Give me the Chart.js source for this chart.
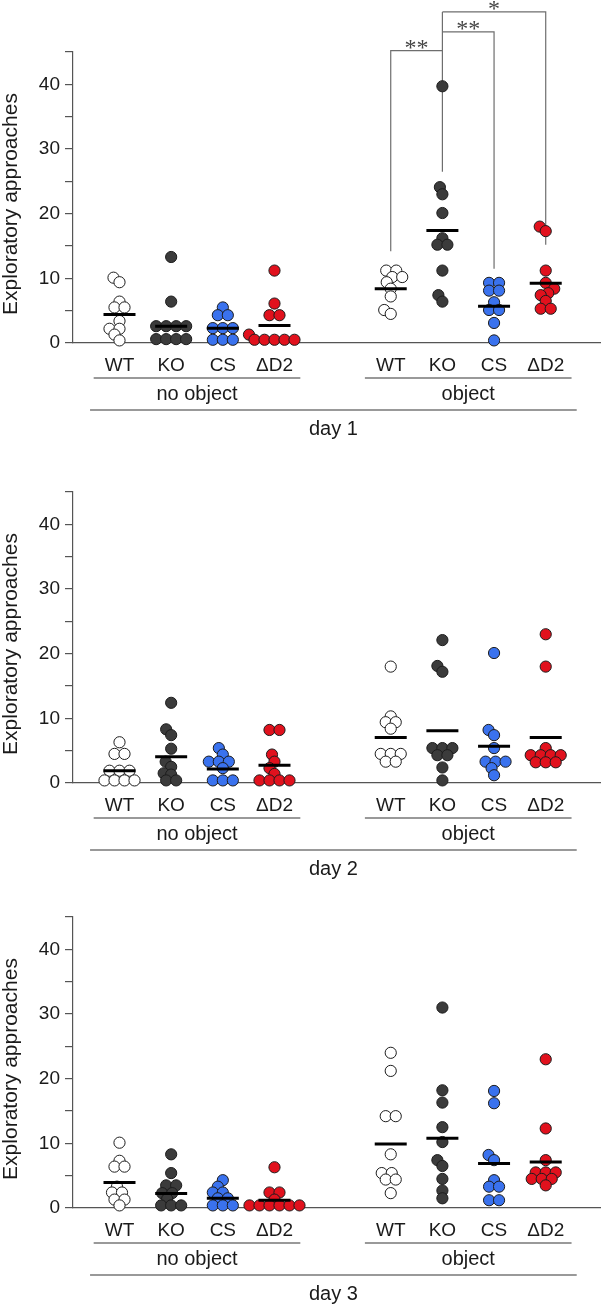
<!DOCTYPE html>
<html>
<head>
<meta charset="utf-8">
<script src="https://cdn.jsdelivr.net/npm/chart.js@4/dist/chart.umd.min.js"></script>
<style>
  html, body { margin: 0; padding: 0; background: #fff; overflow: hidden; }
  #wrap { position: relative; width: 601px; height: 1304px; }
  canvas { position: absolute; left: 0; }
</style>
</head>
<body>
<div id="wrap">
  <canvas id="c1" width="601" height="440" style="top:0px"></canvas>
  <canvas id="c2" width="601" height="440" style="top:440px"></canvas>
  <canvas id="c3" width="601" height="440" style="top:865px"></canvas>
</div>
<script>
// ---- data ----
const genotypes = ['WT', 'KO', 'CS', 'ΔD2'];
const conditions = ['no object', 'object'];
const days = ['day 1', 'day 2', 'day 3'];
const yTitle = 'Exploratory approaches';

// one array per genotype : WT, KO, CS, ΔD2
const day1NoObject = [
  [10.1, 9.4, 6.4, 5.5, 5.5, 3.4, 2.2, 2.2, 1.3, 0.4],
  [13.3, 6.4, 2.6, 2.6, 2.6, 2.6, 0.6, 0.6, 0.6, 0.6],
  [5.5, 4.3, 4.3, 2.3, 2.3, 2.3, 0.5, 0.5, 0.5],
  [11.2, 6.1, 4.3, 4.3, 1.3, 0.5, 0.5, 0.5, 0.5, 0.5]
];
const day1Object = [
  [11.2, 11.2, 10.2, 10.2, 9.4, 8.4, 7.2, 5.1, 4.5],
  [39.7, 24.1, 23.0, 20.1, 16.2, 15.2, 15.2, 11.2, 7.4, 6.4],
  [9.3, 9.3, 8.1, 8.1, 6.3, 5.1, 5.1, 3.1, 0.4],
  [18.0, 17.3, 11.2, 9.3, 8.4, 7.7, 7.4, 6.5, 5.3, 5.3]
];
const day2NoObject = [
  [6.3, 4.5, 4.5, 1.9, 1.9, 1.9, 0.4, 0.4, 0.4, 0.4],
  [12.4, 8.3, 7.4, 5.3, 3.3, 2.5, 1.5, 1.3, 0.4, 0.4],
  [5.4, 4.4, 3.3, 3.3, 3.3, 2.3, 0.4, 0.4, 0.4],
  [8.2, 8.2, 4.4, 3.3, 2.3, 1.4, 0.4, 0.4, 0.4, 0.4]
];
const day2Object = [
  [18.0, 10.3, 9.4, 9.4, 8.4, 4.5, 4.5, 4.5, 3.3, 3.3],
  [22.1, 18.1, 17.2, 5.4, 5.4, 5.4, 4.3, 4.3, 2.4, 0.4],
  [20.1, 8.2, 7.4, 5.4, 3.3, 3.3, 3.3, 2.3, 1.2],
  [23.0, 18.0, 5.4, 4.3, 4.3, 4.3, 4.3, 3.2, 3.2, 3.2]
];
const day3NoObject = [
  [10.1, 7.3, 6.4, 6.4, 3.3, 2.4, 2.4, 1.3, 1.3, 0.4],
  [8.3, 5.4, 3.5, 3.5, 2.3, 2.3, 1.4, 0.4, 0.4, 0.4],
  [4.3, 3.3, 2.4, 2.4, 1.5, 1.5, 0.4, 0.4, 0.4],
  [6.3, 2.4, 2.4, 1.3, 0.4, 0.4, 0.4, 0.4, 0.4, 0.4]
];
const day3Object = [
  [24.0, 21.2, 14.2, 14.2, 8.3, 5.4, 5.4, 4.4, 4.4, 2.3],
  [31.0, 18.2, 16.3, 12.5, 10.2, 7.4, 6.5, 4.5, 2.7, 1.5],
  [18.1, 16.2, 8.2, 7.4, 4.3, 3.3, 3.3, 1.2, 1.2],
  [23.0, 12.3, 7.4, 5.5, 5.5, 5.5, 4.5, 4.5, 4.5, 3.5]
];

// group means (black bars)
const day1NoObjectMean = [4.4, 2.6, 2.3, 2.7];
const day1ObjectMean = [8.4, 17.4, 5.7, 9.25];
const day2NoObjectMean = [1.9, 4.06, 2.16, 2.76];
const day2ObjectMean = [7.05, 8.08, 5.7, 7.05];
const day3NoObjectMean = [3.96, 2.25, 1.5, 1.2];
const day3ObjectMean = [9.9, 10.8, 6.9, 7.1];

// day 1, object : KO vs WT, KO vs CS, KO vs ΔD2
const day1Stars = ['**', '**', '*'];

// ---- look ----
const fills = ['#ffffff', '#3b3b3b', '#3a72ee', '#e1111d'];
const FONT = "'Liberation Sans', Arial, sans-serif";
const xNo = [0, 1, 2, 3];
const xObj = [5.25, 6.25, 7.25, 8.25];

function swarmOffsets(values, yScale, d, tol) {
  const order = values.map((v, i) => i).sort((a, b) => values[a] - values[b]);
  const placed = [];
  const off = new Array(values.length).fill(0);
  let i = 0;
  while (i < order.length) {
    let j = i;
    while (j < order.length && values[order[j]] === values[order[i]]) j++;
    const k = j - i;
    const py = yScale.getPixelForValue(values[order[i]]);
    let shift = 0;
    for (let t = 0; t < 120; t++) {
      const s = (t % 2 ? -1 : 1) * Math.ceil(t / 2) * 0.5;
      let ok = true;
      for (let m = 0; m < k && ok; m++) {
        const px = s + (m - (k - 1) / 2) * d;
        for (const p of placed) {
          if (Math.hypot(px - p.x, py - p.y) < tol) { ok = false; break; }
        }
      }
      if (ok) { shift = s; break; }
    }
    for (let m = 0; m < k; m++) {
      const px = shift + (m - (k - 1) / 2) * d;
      off[order[i + m]] = px;
      placed.push({ x: px, y: py });
    }
    i = j;
  }
  return off;
}

const decoPlugin = {
  id: 'deco',
  beforeDatasetsDraw(chart, args, opts) {
    if (!opts.stars) return;
    const xs = chart.scales.x, ys = chart.scales.y, ctx = chart.ctx;
    // bracket top, leg end for WT, CS, ΔD2
    const brackets = [
      { to: 0, top: 45.2, leg: 14.2 },
      { to: 2, top: 48.1, leg: 11.5 },
      { to: 3, top: 51.2, leg: 15.2 }
    ];
    const kx = xs.getPixelForValue(xObj[1]);
    ctx.save();
    ctx.strokeStyle = '#6e6e6e';
    ctx.lineWidth = 1.2;
    ctx.beginPath();
    ctx.moveTo(kx, ys.getPixelForValue(51.2));
    ctx.lineTo(kx, ys.getPixelForValue(26.5));
    brackets.forEach(b => {
      const ox = xs.getPixelForValue(xObj[b.to]);
      const ty = ys.getPixelForValue(b.top);
      ctx.moveTo(kx, ty);
      ctx.lineTo(ox, ty);
      ctx.lineTo(ox, ys.getPixelForValue(b.leg));
    });
    ctx.stroke();
    ctx.fillStyle = '#444';
    ctx.font = "24px 'Liberation Serif', serif";
    ctx.textAlign = 'center';
    ctx.textBaseline = 'alphabetic';
    brackets.forEach((b, i) => {
      const ox = xs.getPixelForValue(xObj[b.to]);
      ctx.fillText(opts.stars[i], (kx + ox) / 2, ys.getPixelForValue(b.top) + 4);
    });
    ctx.restore();
  },
  afterDraw(chart, args, opts) {
    const xs = chart.scales.x, ctx = chart.ctx, a = chart.chartArea;
    const b = a.bottom;
    ctx.save();
    // y title
    ctx.fillStyle = '#1a1a1a';
    ctx.font = '21px ' + FONT;
    ctx.textAlign = 'center';
    ctx.textBaseline = 'middle';
    ctx.translate(11, a.top + 152);
    ctx.rotate(-Math.PI / 2);
    ctx.fillText(yTitle, 0, 0);
    ctx.setTransform(1, 0, 0, 1, 0, 0);
    // group lines and labels
    ctx.strokeStyle = '#777';
    ctx.lineWidth = 1.4;
    [xNo, xObj].forEach((pos, c) => {
      const mid = (pos[0] + pos[3]) / 2;
      ctx.beginPath();
      ctx.moveTo(xs.getPixelForValue(mid - 2), b + 35);
      ctx.lineTo(xs.getPixelForValue(mid + 2), b + 35);
      ctx.stroke();
      ctx.font = '20px ' + FONT;
      ctx.fillText(conditions[c], xs.getPixelForValue(mid), b + 51);
    });
    const l = xs.getPixelForValue(xNo[0] - 0.57);
    const r = xs.getPixelForValue(xObj[3] + 0.6);
    ctx.beginPath();
    ctx.moveTo(l, b + 67);
    ctx.lineTo(r, b + 67);
    ctx.stroke();
    ctx.font = '20px ' + FONT;
    ctx.fillText(opts.day, (l + r) / 2, b + 86);
    ctx.restore();
  }
};

function makePanel(id, day, noObj, obj, noMean, objMean, stars) {
  const datasets = [{
    label: 'mean',
    data: noMean.map((v, g) => ({ x: xNo[g], y: v })).concat(objMean.map((v, g) => ({ x: xObj[g], y: v }))),
    pointStyle: 'line',
    pointRadius: 16,
    borderWidth: 3,
    borderColor: '#000',
    order: 0,
    clip: false
  }];
  genotypes.forEach((name, g) => {
    datasets.push({
      label: name,
      data: noObj[g].map(v => ({ x: xNo[g], y: v })).concat(obj[g].map(v => ({ x: xObj[g], y: v }))),
      backgroundColor: fills[g],
      borderColor: '#1c1c1c',
      borderWidth: 1,
      pointRadius: 5.6,
      order: 1,
      clip: false
    });
  });

  const chart = new Chart(document.getElementById(id), {
    type: 'scatter',
    data: { datasets: datasets },
    plugins: [decoPlugin],
    options: {
      responsive: false,
      animation: false,
      devicePixelRatio: 1,
      events: [],
      layout: { autoPadding: false, padding: { top: 52, left: 0, right: 0, bottom: 0 } },
      plugins: {
        legend: { display: false },
        tooltip: { enabled: false },
        deco: { day: day, stars: stars }
      },
      scales: {
        x: {
          type: 'linear',
          min: -0.9,
          max: 9.32,
          afterFit: s => { s.height = 97; s.paddingLeft = 0; s.paddingRight = 0; },
          afterBuildTicks: axis => { axis.ticks = xNo.concat(xObj).map(v => ({ value: v })); },
          grid: { display: false, drawTicks: false },
          border: { color: '#555', width: 1.2 },
          ticks: {
            autoSkip: false,
            maxRotation: 0,
            padding: 11,
            color: '#1a1a1a',
            font: { family: FONT, size: 19 },
            callback: (v, i) => genotypes[i % 4]
          }
        },
        y: {
          min: 0,
          max: 45,
          afterFit: s => { s.width = 73; s.paddingTop = 0; s.paddingBottom = 0; },
          grid: { drawOnChartArea: false, drawTicks: true, tickLength: 8, color: '#555', lineWidth: 1.2 },
          border: { color: '#555', width: 1.2 },
          ticks: {
            stepSize: 5,
            padding: 5,
            color: '#1a1a1a',
            font: { family: FONT, size: 19 },
            callback: v => (v % 10 === 0 ? v : '')
          }
        }
      }
    }
  });

  // beeswarm spread of the dots, worked out in pixels from the scales
  const xs = chart.scales.x, ys = chart.scales.y;
  const unit = xs.getPixelForValue(1) - xs.getPixelForValue(0);
  genotypes.forEach((name, g) => {
    const a = swarmOffsets(noObj[g], ys, 10, 7.5);
    const b = swarmOffsets(obj[g], ys, 10, 7.5);
    chart.data.datasets[g + 1].data = noObj[g].map((v, i) => ({ x: xNo[g] + a[i] / unit, y: v }))
      .concat(obj[g].map((v, i) => ({ x: xObj[g] + b[i] / unit, y: v })));
  });
  chart.update('none');
  return chart;
}

makePanel('c1', days[0], day1NoObject, day1Object, day1NoObjectMean, day1ObjectMean, day1Stars);
makePanel('c2', days[1], day2NoObject, day2Object, day2NoObjectMean, day2ObjectMean, null);
makePanel('c3', days[2], day3NoObject, day3Object, day3NoObjectMean, day3ObjectMean, null);
</script>
</body>
</html>
